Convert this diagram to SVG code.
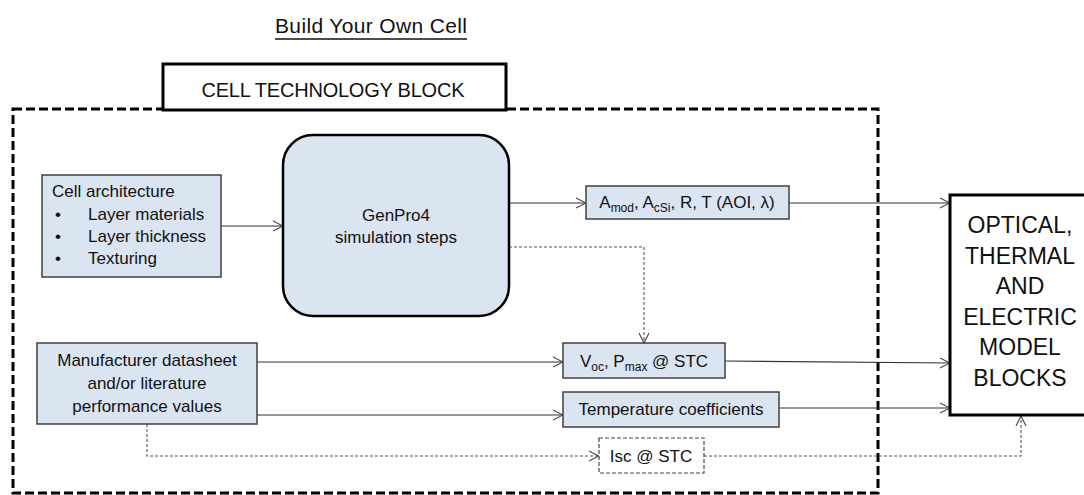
<svg xmlns="http://www.w3.org/2000/svg" width="1084" height="495" viewBox="0 0 1084 495">
<style>
text{font-family:"Liberation Sans",Arial,sans-serif;fill:#111}
.box{fill:#dbe4f1;stroke:#404040;stroke-width:1.5}
.t17{font-size:17px}
.conn{fill:none;stroke:#333;stroke-width:1.2}
.dash{fill:none;stroke:#555;stroke-width:1.1;stroke-dasharray:3 2}
</style>
<defs>
<marker id="arr" markerUnits="userSpaceOnUse" markerWidth="12" markerHeight="12" refX="11" refY="6" orient="auto" viewBox="0 0 12 12">
<path d="M1,1 L11,6 L1,11" fill="none" stroke="#444" stroke-width="1.1"/>
</marker>
</defs>
<rect width="1084" height="495" fill="#fff"/>
<g id="title">
<text x="371" y="33" font-size="21" text-anchor="middle" textLength="192">Build Your Own Cell</text>
<line x1="275" y1="39" x2="467" y2="39" stroke="#111" stroke-width="1.3"/>
</g>
<g id="cell-technology-container">
<rect x="13" y="109" width="865" height="384" fill="none" stroke="#000" stroke-width="3" stroke-dasharray="9 4"/>
<rect x="163" y="64" width="343" height="46" fill="#fff" stroke="#000" stroke-width="3"/>
<text x="333" y="97" font-size="20" text-anchor="middle" textLength="263">CELL TECHNOLOGY BLOCK</text>
</g>
<g id="connectors">
<path class="conn" d="M221,226 H283" marker-end="url(#arr)"/>
<path class="conn" d="M509,203 H586" marker-end="url(#arr)"/>
<path class="conn" d="M789,203 H950" marker-end="url(#arr)"/>
<path class="dash" d="M509,247 H644 V343" marker-end="url(#arr)"/>
<path class="conn" d="M257,362 H563" marker-end="url(#arr)"/>
<path class="conn" d="M257,415 H563" marker-end="url(#arr)"/>
<path class="conn" d="M725,361 L950,363" marker-end="url(#arr)"/>
<path class="conn" d="M779,408 H950" marker-end="url(#arr)"/>
<path class="dash" d="M147,424 V456 H599" marker-end="url(#arr)"/>
<path class="dash" d="M704,456 H1021 V416" marker-end="url(#arr)"/>
</g>
<g id="cell-architecture">
<rect class="box" x="42" y="175" width="179" height="102"/>
<text class="t17" x="52" y="197">Cell architecture</text>
<text class="t17" x="55" y="220">•</text><text class="t17" x="88" y="220">Layer materials</text>
<text class="t17" x="55" y="242">•</text><text class="t17" x="88" y="242">Layer thickness</text>
<text class="t17" x="55" y="264">•</text><text class="t17" x="88" y="264">Texturing</text>
</g>
<g id="genpro4">
<rect x="283" y="135" width="226" height="181" rx="30" ry="30" fill="#dbe4f1" stroke="#000" stroke-width="2.5"/>
<text class="t17" x="396" y="221" text-anchor="middle">GenPro4</text>
<text class="t17" x="396" y="243" text-anchor="middle">simulation steps</text>
</g>
<g id="optical-outputs">
<rect class="box" x="586" y="186" width="203" height="33"/>
<text class="t17" x="687" y="208" text-anchor="middle">A<tspan font-size="12" dy="4">mod</tspan><tspan dy="-4">, A</tspan><tspan font-size="12" dy="4">cSi</tspan><tspan dy="-4">, R, T (AOI, λ)</tspan></text>
</g>
<g id="manufacturer">
<rect class="box" x="37" y="343" width="220" height="81"/>
<text class="t17" x="147" y="366" text-anchor="middle">Manufacturer datasheet</text>
<text class="t17" x="147" y="389" text-anchor="middle">and/or literature</text>
<text class="t17" x="147" y="412" text-anchor="middle">performance values</text>
</g>
<g id="voc-pmax">
<rect class="box" x="563" y="343" width="162" height="35"/>
<text class="t17" x="644" y="367" text-anchor="middle">V<tspan font-size="12" dy="4">oc</tspan><tspan dy="-4">, P</tspan><tspan font-size="12" dy="4">max</tspan><tspan dy="-4"> @ STC</tspan></text>
</g>
<g id="temperature-coefficients">
<rect class="box" x="563" y="392" width="216" height="35"/>
<text class="t17" x="671" y="415" text-anchor="middle">Temperature coefficients</text>
</g>
<g id="isc">
<rect x="599" y="438" width="105" height="35" fill="#fff" stroke="#444" stroke-width="1.2" stroke-dasharray="4 2"/>
<text class="t17" x="651" y="462" text-anchor="middle">Isc @ STC</text>
</g>
<g id="model-blocks">
<rect x="950" y="195" width="142" height="220" fill="#fff" stroke="#000" stroke-width="3"/>
<g font-size="23" text-anchor="middle">
<text x="1020" y="233">OPTICAL,</text>
<text x="1020" y="264">THERMAL</text>
<text x="1020" y="294">AND</text>
<text x="1020" y="325">ELECTRIC</text>
<text x="1020" y="355">MODEL</text>
<text x="1020" y="386">BLOCKS</text>
</g>
</g>
</svg>
